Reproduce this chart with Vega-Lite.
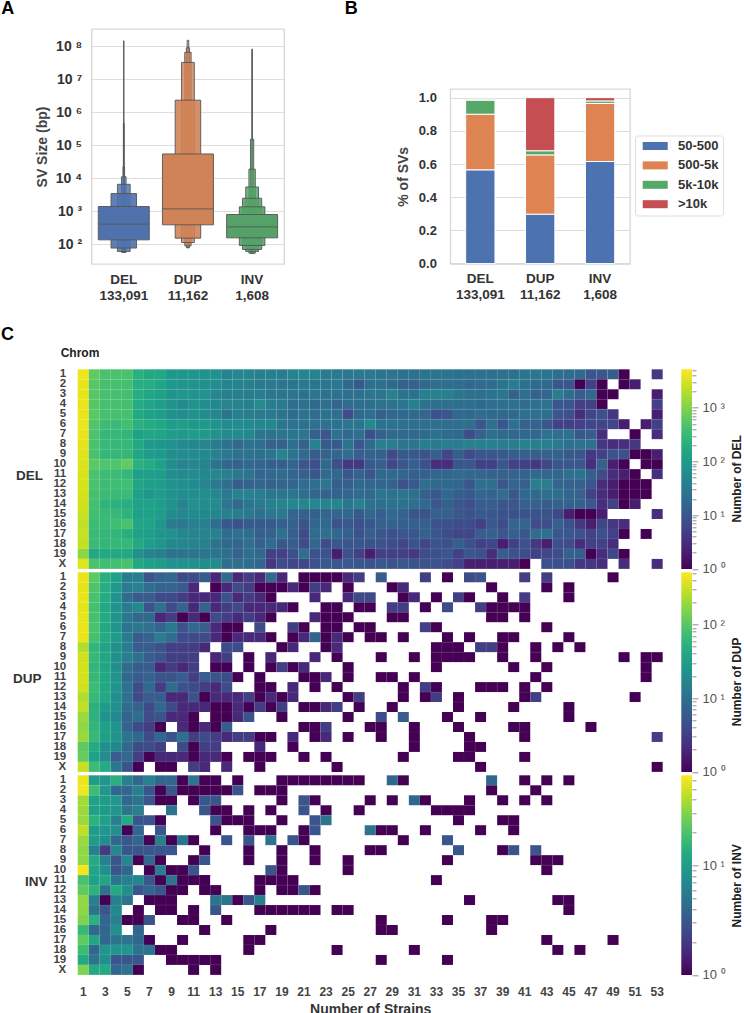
{"$schema":"https://vega.github.io/schema/vega-lite/v6.json","autosize":{"type":"none"},"padding":{"left":77.7,"top":29,"right":666.3,"bottom":984},"background":"white","bounds":"flush","spacing":340.3,
"config":{"font":"Liberation Sans","view":{"stroke":null},"axis":{"labelFont":"Liberation Sans","titleFont":"Liberation Sans"}},
"datasets":{"sv":[{"t":"DEL","lo":60,"hi":145000000,"k":0.0078},{"t":"DEL","lo":60,"hi":460000,"k":0.0156},{"t":"DEL","lo":57,"hi":22000,"k":0.031},{"t":"DEL","lo":56,"hi":11000,"k":0.09},{"t":"DEL","lo":60,"hi":6500,"k":0.25},{"t":"DEL","lo":76,"hi":3400,"k":0.5},{"t":"DEL","lo":135,"hi":1380,"k":1},
{"t":"DUP","lo":78,"hi":150000000,"k":0.031},{"t":"DUP","lo":78,"hi":89000000,"k":0.0625},{"t":"DUP","lo":89,"hi":65000000,"k":0.125},{"t":"DUP","lo":112,"hi":32000000,"k":0.25},{"t":"DUP","lo":152,"hi":2300000,"k":0.5},{"t":"DUP","lo":385,"hi":54000,"k":1},
{"t":"INV","lo":53,"hi":81000000,"k":0.0156},{"t":"INV","lo":53,"hi":150000,"k":0.0625},{"t":"INV","lo":53,"hi":18700,"k":0.125},{"t":"INV","lo":60,"hi":5400,"k":0.25},{"t":"INV","lo":69,"hi":2450,"k":0.375},{"t":"INV","lo":91,"hi":1350,"k":0.5},{"t":"INV","lo":155,"hi":790,"k":1}],
"med":[{"t":"DEL","m":403},{"t":"DUP","m":1170},{"t":"INV","m":334}],
"pct":[{"t":"DEL","b":"50-500","k":1,"p":0.565},{"t":"DEL","b":"500-5k","k":2,"p":0.335},{"t":"DEL","b":"5k-10k","k":3,"p":0.085},{"t":"DEL","b":">10k","k":4,"p":0.005},{"t":"DUP","b":"50-500","k":1,"p":0.298},{"t":"DUP","b":"500-5k","k":2,"p":0.357},{"t":"DUP","b":"5k-10k","k":3,"p":0.025},{"t":"DUP","b":">10k","k":4,"p":0.32},{"t":"INV","b":"50-500","k":1,"p":0.615},{"t":"INV","b":"500-5k","k":2,"p":0.35},{"t":"INV","b":"5k-10k","k":3,"p":0.015},{"t":"INV","b":">10k","k":4,"p":0.02}],
"del":[
{"c":"1","s":1,"n":4200},{"c":"1","s":2,"n":650},{"c":"1","s":3,"n":450},{"c":"1","s":4,"n":450},{"c":"1","s":5,"n":450},{"c":"1","s":6,"n":230},{"c":"1","s":7,"n":170},{"c":"1","s":8,"n":170},{"c":"1","s":9,"n":95},{"c":"1","s":10,"n":95},{"c":"1","s":11,"n":85},{"c":"1","s":12,"n":76},{"c":"1","s":13,"n":72},{"c":"1","s":14,"n":43},{"c":"1","s":15,"n":50},{"c":"1","s":16,"n":47},{"c":"1","s":17,"n":40},{"c":"1","s":18,"n":40},{"c":"1","s":19,"n":36},{"c":"1","s":20,"n":43},{"c":"1","s":21,"n":47},{"c":"1","s":22,"n":43},{"c":"1","s":23,"n":36},{"c":"1","s":24,"n":32},{"c":"1","s":25,"n":32},{"c":"1","s":26,"n":32},{"c":"1","s":27,"n":32},{"c":"1","s":28,"n":29},{"c":"1","s":29,"n":29},{"c":"1","s":30,"n":25},{"c":"1","s":31,"n":25},{"c":"1","s":32,"n":27},{"c":"1","s":33,"n":29},{"c":"1","s":34,"n":27},{"c":"1","s":35,"n":25},{"c":"1","s":36,"n":25},{"c":"1","s":37,"n":25},{"c":"1","s":38,"n":24},{"c":"1","s":39,"n":24},{"c":"1","s":40,"n":25},{"c":"1","s":41,"n":29},{"c":"1","s":42,"n":30},{"c":"1","s":43,"n":27},{"c":"1","s":44,"n":22},{"c":"1","s":45,"n":20},{"c":"1","s":46,"n":19},{"c":"1","s":47,"n":10},{"c":"1","s":48,"n":10},{"c":"1","s":49,"n":12},{"c":"1","s":50,"n":1},{"c":"1","s":53,"n":4},
{"c":"2","s":1,"n":3800},{"c":"2","s":2,"n":550},{"c":"2","s":3,"n":420},{"c":"2","s":4,"n":420},{"c":"2","s":5,"n":420},{"c":"2","s":6,"n":210},{"c":"2","s":7,"n":200},{"c":"2","s":8,"n":150},{"c":"2","s":9,"n":100},{"c":"2","s":10,"n":85},{"c":"2","s":11,"n":76},{"c":"2","s":12,"n":68},{"c":"2","s":13,"n":64},{"c":"2","s":14,"n":47},{"c":"2","s":15,"n":43},{"c":"2","s":16,"n":40},{"c":"2","s":17,"n":32},{"c":"2","s":18,"n":32},{"c":"2","s":19,"n":29},{"c":"2","s":20,"n":27},{"c":"2","s":21,"n":32},{"c":"2","s":22,"n":27},{"c":"2","s":23,"n":29},{"c":"2","s":24,"n":30},{"c":"2","s":25,"n":18},{"c":"2","s":26,"n":11},{"c":"2","s":27,"n":22},{"c":"2","s":28,"n":25},{"c":"2","s":29,"n":18},{"c":"2","s":30,"n":14},{"c":"2","s":31,"n":14},{"c":"2","s":32,"n":18},{"c":"2","s":33,"n":22},{"c":"2","s":34,"n":20},{"c":"2","s":35,"n":20},{"c":"2","s":36,"n":18},{"c":"2","s":37,"n":20},{"c":"2","s":38,"n":20},{"c":"2","s":39,"n":27},{"c":"2","s":40,"n":36},{"c":"2","s":41,"n":25},{"c":"2","s":42,"n":18},{"c":"2","s":43,"n":18},{"c":"2","s":44,"n":10},{"c":"2","s":45,"n":10},{"c":"2","s":46,"n":1},{"c":"2","s":47,"n":5},{"c":"2","s":48,"n":1},{"c":"2","s":50,"n":1},{"c":"2","s":51,"n":2},
{"c":"3","s":1,"n":3800},{"c":"3","s":2,"n":550},{"c":"3","s":3,"n":420},{"c":"3","s":4,"n":420},{"c":"3","s":5,"n":400},{"c":"3","s":6,"n":200},{"c":"3","s":7,"n":150},{"c":"3","s":8,"n":130},{"c":"3","s":9,"n":85},{"c":"3","s":10,"n":94},{"c":"3","s":11,"n":76},{"c":"3","s":12,"n":76},{"c":"3","s":13,"n":51},{"c":"3","s":14,"n":40},{"c":"3","s":15,"n":40},{"c":"3","s":16,"n":36},{"c":"3","s":17,"n":36},{"c":"3","s":18,"n":29},{"c":"3","s":19,"n":29},{"c":"3","s":20,"n":29},{"c":"3","s":21,"n":25},{"c":"3","s":22,"n":29},{"c":"3","s":23,"n":25},{"c":"3","s":24,"n":25},{"c":"3","s":25,"n":25},{"c":"3","s":26,"n":25},{"c":"3","s":27,"n":29},{"c":"3","s":28,"n":29},{"c":"3","s":29,"n":43},{"c":"3","s":30,"n":25},{"c":"3","s":31,"n":25},{"c":"3","s":32,"n":40},{"c":"3","s":33,"n":40},{"c":"3","s":34,"n":40},{"c":"3","s":35,"n":29},{"c":"3","s":36,"n":25},{"c":"3","s":37,"n":22},{"c":"3","s":38,"n":27},{"c":"3","s":39,"n":29},{"c":"3","s":40,"n":14},{"c":"3","s":41,"n":22},{"c":"3","s":42,"n":14},{"c":"3","s":43,"n":16},{"c":"3","s":44,"n":36},{"c":"3","s":45,"n":22},{"c":"3","s":46,"n":12},{"c":"3","s":47,"n":18},{"c":"3","s":48,"n":1},{"c":"3","s":49,"n":1},{"c":"3","s":53,"n":2},
{"c":"4","s":1,"n":3900},{"c":"4","s":2,"n":550},{"c":"4","s":3,"n":420},{"c":"4","s":4,"n":420},{"c":"4","s":5,"n":400},{"c":"4","s":6,"n":190},{"c":"4","s":7,"n":150},{"c":"4","s":8,"n":120},{"c":"4","s":9,"n":80},{"c":"4","s":10,"n":60},{"c":"4","s":11,"n":80},{"c":"4","s":12,"n":64},{"c":"4","s":13,"n":55},{"c":"4","s":14,"n":47},{"c":"4","s":15,"n":43},{"c":"4","s":16,"n":40},{"c":"4","s":17,"n":58},{"c":"4","s":18,"n":36},{"c":"4","s":19,"n":32},{"c":"4","s":20,"n":23},{"c":"4","s":21,"n":22},{"c":"4","s":22,"n":18},{"c":"4","s":23,"n":22},{"c":"4","s":24,"n":16},{"c":"4","s":25,"n":20},{"c":"4","s":26,"n":22},{"c":"4","s":27,"n":22},{"c":"4","s":28,"n":25},{"c":"4","s":29,"n":25},{"c":"4","s":30,"n":29},{"c":"4","s":31,"n":40},{"c":"4","s":32,"n":25},{"c":"4","s":33,"n":22},{"c":"4","s":34,"n":22},{"c":"4","s":35,"n":22},{"c":"4","s":36,"n":22},{"c":"4","s":37,"n":18},{"c":"4","s":38,"n":22},{"c":"4","s":39,"n":22},{"c":"4","s":40,"n":25},{"c":"4","s":41,"n":20},{"c":"4","s":42,"n":25},{"c":"4","s":43,"n":25},{"c":"4","s":44,"n":10},{"c":"4","s":45,"n":10},{"c":"4","s":46,"n":5},{"c":"4","s":47,"n":5},{"c":"4","s":48,"n":1},{"c":"4","s":53,"n":5},
{"c":"5","s":1,"n":3900},{"c":"5","s":2,"n":600},{"c":"5","s":3,"n":420},{"c":"5","s":4,"n":420},{"c":"5","s":5,"n":420},{"c":"5","s":6,"n":170},{"c":"5","s":7,"n":130},{"c":"5","s":8,"n":120},{"c":"5","s":9,"n":72},{"c":"5","s":10,"n":64},{"c":"5","s":11,"n":72},{"c":"5","s":12,"n":60},{"c":"5","s":13,"n":51},{"c":"5","s":14,"n":27},{"c":"5","s":15,"n":40},{"c":"5","s":16,"n":36},{"c":"5","s":17,"n":32},{"c":"5","s":18,"n":32},{"c":"5","s":19,"n":27},{"c":"5","s":20,"n":20},{"c":"5","s":21,"n":25},{"c":"5","s":22,"n":20},{"c":"5","s":23,"n":25},{"c":"5","s":24,"n":22},{"c":"5","s":25,"n":7},{"c":"5","s":26,"n":18},{"c":"5","s":27,"n":22},{"c":"5","s":28,"n":13},{"c":"5","s":29,"n":16},{"c":"5","s":30,"n":18},{"c":"5","s":31,"n":18},{"c":"5","s":32,"n":16},{"c":"5","s":33,"n":8},{"c":"5","s":34,"n":10},{"c":"5","s":35,"n":18},{"c":"5","s":36,"n":18},{"c":"5","s":37,"n":20},{"c":"5","s":38,"n":18},{"c":"5","s":39,"n":18},{"c":"5","s":40,"n":18},{"c":"5","s":41,"n":22},{"c":"5","s":42,"n":22},{"c":"5","s":43,"n":22},{"c":"5","s":44,"n":10},{"c":"5","s":45,"n":8},{"c":"5","s":46,"n":3},{"c":"5","s":47,"n":6},{"c":"5","s":48,"n":8},{"c":"5","s":49,"n":4},{"c":"5","s":53,"n":2},
{"c":"6","s":1,"n":4000},{"c":"6","s":2,"n":500},{"c":"6","s":3,"n":350},{"c":"6","s":4,"n":330},{"c":"6","s":5,"n":400},{"c":"6","s":6,"n":230},{"c":"6","s":7,"n":190},{"c":"6","s":8,"n":170},{"c":"6","s":9,"n":110},{"c":"6","s":10,"n":119},{"c":"6","s":11,"n":94},{"c":"6","s":12,"n":94},{"c":"6","s":13,"n":80},{"c":"6","s":14,"n":61},{"c":"6","s":15,"n":61},{"c":"6","s":16,"n":58},{"c":"6","s":17,"n":50},{"c":"6","s":18,"n":54},{"c":"6","s":19,"n":29},{"c":"6","s":20,"n":25},{"c":"6","s":21,"n":25},{"c":"6","s":22,"n":25},{"c":"6","s":23,"n":25},{"c":"6","s":24,"n":25},{"c":"6","s":25,"n":29},{"c":"6","s":26,"n":29},{"c":"6","s":27,"n":58},{"c":"6","s":28,"n":25},{"c":"6","s":29,"n":25},{"c":"6","s":30,"n":22},{"c":"6","s":31,"n":22},{"c":"6","s":32,"n":22},{"c":"6","s":33,"n":22},{"c":"6","s":34,"n":22},{"c":"6","s":35,"n":22},{"c":"6","s":36,"n":22},{"c":"6","s":37,"n":10},{"c":"6","s":38,"n":22},{"c":"6","s":39,"n":10},{"c":"6","s":40,"n":25},{"c":"6","s":41,"n":14},{"c":"6","s":42,"n":14},{"c":"6","s":43,"n":10},{"c":"6","s":44,"n":5},{"c":"6","s":45,"n":5},{"c":"6","s":46,"n":5},{"c":"6","s":47,"n":6},{"c":"6","s":48,"n":6},{"c":"6","s":49,"n":6},{"c":"6","s":50,"n":2},{"c":"6","s":52,"n":2},{"c":"6","s":53,"n":5},
{"c":"7","s":1,"n":3900},{"c":"7","s":2,"n":480},{"c":"7","s":3,"n":300},{"c":"7","s":4,"n":300},{"c":"7","s":5,"n":280},{"c":"7","s":6,"n":130},{"c":"7","s":7,"n":160},{"c":"7","s":8,"n":140},{"c":"7","s":9,"n":110},{"c":"7","s":10,"n":100},{"c":"7","s":11,"n":110},{"c":"7","s":12,"n":100},{"c":"7","s":13,"n":72},{"c":"7","s":14,"n":58},{"c":"7","s":15,"n":58},{"c":"7","s":16,"n":54},{"c":"7","s":17,"n":29},{"c":"7","s":18,"n":25},{"c":"7","s":19,"n":29},{"c":"7","s":20,"n":29},{"c":"7","s":21,"n":29},{"c":"7","s":22,"n":13},{"c":"7","s":23,"n":10},{"c":"7","s":24,"n":25},{"c":"7","s":25,"n":18},{"c":"7","s":26,"n":22},{"c":"7","s":27,"n":8},{"c":"7","s":28,"n":14},{"c":"7","s":29,"n":18},{"c":"7","s":30,"n":18},{"c":"7","s":31,"n":18},{"c":"7","s":32,"n":18},{"c":"7","s":33,"n":25},{"c":"7","s":34,"n":18},{"c":"7","s":35,"n":18},{"c":"7","s":36,"n":7},{"c":"7","s":37,"n":14},{"c":"7","s":38,"n":22},{"c":"7","s":39,"n":18},{"c":"7","s":40,"n":16},{"c":"7","s":41,"n":16},{"c":"7","s":42,"n":16},{"c":"7","s":43,"n":25},{"c":"7","s":44,"n":22},{"c":"7","s":45,"n":22},{"c":"7","s":46,"n":10},{"c":"7","s":47,"n":12},{"c":"7","s":48,"n":3},{"c":"7","s":51,"n":1},{"c":"7","s":53,"n":3},
{"c":"8","s":1,"n":3700},{"c":"8","s":2,"n":450},{"c":"8","s":3,"n":320},{"c":"8","s":4,"n":300},{"c":"8","s":5,"n":300},{"c":"8","s":6,"n":170},{"c":"8","s":7,"n":100},{"c":"8","s":8,"n":90},{"c":"8","s":9,"n":72},{"c":"8","s":10,"n":60},{"c":"8","s":11,"n":55},{"c":"8","s":12,"n":47},{"c":"8","s":13,"n":34},{"c":"8","s":14,"n":25},{"c":"8","s":15,"n":18},{"c":"8","s":16,"n":25},{"c":"8","s":17,"n":22},{"c":"8","s":18,"n":14},{"c":"8","s":19,"n":14},{"c":"8","s":20,"n":22},{"c":"8","s":21,"n":14},{"c":"8","s":22,"n":43},{"c":"8","s":23,"n":11},{"c":"8","s":24,"n":11},{"c":"8","s":25,"n":27},{"c":"8","s":26,"n":10},{"c":"8","s":27,"n":18},{"c":"8","s":28,"n":40},{"c":"8","s":29,"n":36},{"c":"8","s":30,"n":29},{"c":"8","s":31,"n":29},{"c":"8","s":32,"n":36},{"c":"8","s":33,"n":32},{"c":"8","s":34,"n":36},{"c":"8","s":35,"n":36},{"c":"8","s":36,"n":40},{"c":"8","s":37,"n":40},{"c":"8","s":38,"n":40},{"c":"8","s":39,"n":36},{"c":"8","s":40,"n":36},{"c":"8","s":41,"n":43},{"c":"8","s":42,"n":40},{"c":"8","s":43,"n":40},{"c":"8","s":44,"n":32},{"c":"8","s":45,"n":25},{"c":"8","s":46,"n":25},{"c":"8","s":47,"n":25},{"c":"8","s":48,"n":4},{"c":"8","s":49,"n":3},{"c":"8","s":50,"n":3},{"c":"8","s":51,"n":4},
{"c":"9","s":1,"n":3500},{"c":"9","s":2,"n":430},{"c":"9","s":3,"n":300},{"c":"9","s":4,"n":300},{"c":"9","s":5,"n":300},{"c":"9","s":6,"n":150},{"c":"9","s":7,"n":110},{"c":"9","s":8,"n":100},{"c":"9","s":9,"n":64},{"c":"9","s":10,"n":60},{"c":"9","s":11,"n":60},{"c":"9","s":12,"n":55},{"c":"9","s":13,"n":43},{"c":"9","s":14,"n":32},{"c":"9","s":15,"n":25},{"c":"9","s":16,"n":25},{"c":"9","s":17,"n":22},{"c":"9","s":18,"n":29},{"c":"9","s":19,"n":47},{"c":"9","s":20,"n":27},{"c":"9","s":21,"n":18},{"c":"9","s":22,"n":12},{"c":"9","s":23,"n":14},{"c":"9","s":24,"n":16},{"c":"9","s":25,"n":20},{"c":"9","s":26,"n":13},{"c":"9","s":27,"n":14},{"c":"9","s":28,"n":13},{"c":"9","s":29,"n":7},{"c":"9","s":30,"n":11},{"c":"9","s":31,"n":11},{"c":"9","s":32,"n":9},{"c":"9","s":33,"n":13},{"c":"9","s":34,"n":6},{"c":"9","s":35,"n":13},{"c":"9","s":36,"n":7},{"c":"9","s":37,"n":10},{"c":"9","s":38,"n":10},{"c":"9","s":39,"n":11},{"c":"9","s":40,"n":12},{"c":"9","s":41,"n":13},{"c":"9","s":42,"n":13},{"c":"9","s":43,"n":14},{"c":"9","s":44,"n":14},{"c":"9","s":45,"n":11},{"c":"9","s":46,"n":10},{"c":"9","s":47,"n":4},{"c":"9","s":48,"n":5},{"c":"9","s":49,"n":9},{"c":"9","s":50,"n":8},{"c":"9","s":51,"n":1},{"c":"9","s":52,"n":1},{"c":"9","s":53,"n":2},
{"c":"10","s":1,"n":3300},{"c":"10","s":2,"n":600},{"c":"10","s":3,"n":500},{"c":"10","s":4,"n":500},{"c":"10","s":5,"n":650},{"c":"10","s":6,"n":230},{"c":"10","s":7,"n":190},{"c":"10","s":8,"n":130},{"c":"10","s":9,"n":60},{"c":"10","s":10,"n":47},{"c":"10","s":11,"n":51},{"c":"10","s":12,"n":47},{"c":"10","s":13,"n":26},{"c":"10","s":14,"n":16},{"c":"10","s":15,"n":14},{"c":"10","s":16,"n":18},{"c":"10","s":17,"n":16},{"c":"10","s":18,"n":13},{"c":"10","s":19,"n":13},{"c":"10","s":20,"n":16},{"c":"10","s":21,"n":10},{"c":"10","s":22,"n":8},{"c":"10","s":23,"n":18},{"c":"10","s":24,"n":8},{"c":"10","s":25,"n":4},{"c":"10","s":26,"n":4},{"c":"10","s":27,"n":11},{"c":"10","s":28,"n":13},{"c":"10","s":29,"n":6},{"c":"10","s":30,"n":10},{"c":"10","s":31,"n":13},{"c":"10","s":32,"n":8},{"c":"10","s":33,"n":3},{"c":"10","s":34,"n":3},{"c":"10","s":35,"n":10},{"c":"10","s":36,"n":10},{"c":"10","s":37,"n":5},{"c":"10","s":38,"n":5},{"c":"10","s":39,"n":10},{"c":"10","s":40,"n":5},{"c":"10","s":41,"n":5},{"c":"10","s":42,"n":4},{"c":"10","s":43,"n":6},{"c":"10","s":44,"n":10},{"c":"10","s":45,"n":10},{"c":"10","s":46,"n":10},{"c":"10","s":47,"n":3},{"c":"10","s":48,"n":14},{"c":"10","s":49,"n":2},{"c":"10","s":50,"n":1},{"c":"10","s":52,"n":1},{"c":"10","s":53,"n":1},
{"c":"11","s":1,"n":3200},{"c":"11","s":2,"n":450},{"c":"11","s":3,"n":350},{"c":"11","s":4,"n":350},{"c":"11","s":5,"n":300},{"c":"11","s":6,"n":120},{"c":"11","s":7,"n":120},{"c":"11","s":8,"n":110},{"c":"11","s":9,"n":64},{"c":"11","s":10,"n":60},{"c":"11","s":11,"n":60},{"c":"11","s":12,"n":55},{"c":"11","s":13,"n":51},{"c":"11","s":14,"n":40},{"c":"11","s":15,"n":32},{"c":"11","s":16,"n":27},{"c":"11","s":17,"n":16},{"c":"11","s":18,"n":18},{"c":"11","s":19,"n":20},{"c":"11","s":20,"n":16},{"c":"11","s":21,"n":13},{"c":"11","s":22,"n":10},{"c":"11","s":23,"n":18},{"c":"11","s":24,"n":18},{"c":"11","s":25,"n":10},{"c":"11","s":26,"n":14},{"c":"11","s":27,"n":10},{"c":"11","s":28,"n":18},{"c":"11","s":29,"n":18},{"c":"11","s":30,"n":16},{"c":"11","s":31,"n":13},{"c":"11","s":32,"n":13},{"c":"11","s":33,"n":16},{"c":"11","s":34,"n":16},{"c":"11","s":35,"n":20},{"c":"11","s":36,"n":18},{"c":"11","s":37,"n":16},{"c":"11","s":38,"n":14},{"c":"11","s":39,"n":14},{"c":"11","s":40,"n":14},{"c":"11","s":41,"n":14},{"c":"11","s":42,"n":18},{"c":"11","s":43,"n":16},{"c":"11","s":44,"n":16},{"c":"11","s":45,"n":22},{"c":"11","s":46,"n":25},{"c":"11","s":47,"n":13},{"c":"11","s":48,"n":7},{"c":"11","s":49,"n":3},{"c":"11","s":50,"n":2},{"c":"11","s":51,"n":1},{"c":"11","s":53,"n":3},
{"c":"12","s":1,"n":3100},{"c":"12","s":2,"n":450},{"c":"12","s":3,"n":350},{"c":"12","s":4,"n":370},{"c":"12","s":5,"n":380},{"c":"12","s":6,"n":150},{"c":"12","s":7,"n":120},{"c":"12","s":8,"n":110},{"c":"12","s":9,"n":72},{"c":"12","s":10,"n":68},{"c":"12","s":11,"n":60},{"c":"12","s":12,"n":47},{"c":"12","s":13,"n":32},{"c":"12","s":14,"n":22},{"c":"12","s":15,"n":12},{"c":"12","s":16,"n":14},{"c":"12","s":17,"n":16},{"c":"12","s":18,"n":14},{"c":"12","s":19,"n":16},{"c":"12","s":20,"n":16},{"c":"12","s":21,"n":20},{"c":"12","s":22,"n":22},{"c":"12","s":23,"n":29},{"c":"12","s":24,"n":13},{"c":"12","s":25,"n":13},{"c":"12","s":26,"n":18},{"c":"12","s":27,"n":16},{"c":"12","s":28,"n":16},{"c":"12","s":29,"n":14},{"c":"12","s":30,"n":8},{"c":"12","s":31,"n":11},{"c":"12","s":32,"n":22},{"c":"12","s":33,"n":18},{"c":"12","s":34,"n":18},{"c":"12","s":35,"n":16},{"c":"12","s":36,"n":10},{"c":"12","s":37,"n":22},{"c":"12","s":38,"n":22},{"c":"12","s":39,"n":10},{"c":"12","s":40,"n":16},{"c":"12","s":41,"n":14},{"c":"12","s":42,"n":36},{"c":"12","s":43,"n":36},{"c":"12","s":44,"n":16},{"c":"12","s":45,"n":14},{"c":"12","s":46,"n":14},{"c":"12","s":47,"n":10},{"c":"12","s":48,"n":3},{"c":"12","s":49,"n":2},{"c":"12","s":50,"n":1},{"c":"12","s":51,"n":1},{"c":"12","s":52,"n":1},
{"c":"13","s":1,"n":3000},{"c":"13","s":2,"n":420},{"c":"13","s":3,"n":340},{"c":"13","s":4,"n":320},{"c":"13","s":5,"n":340},{"c":"13","s":6,"n":120},{"c":"13","s":7,"n":90},{"c":"13","s":8,"n":110},{"c":"13","s":9,"n":72},{"c":"13","s":10,"n":68},{"c":"13","s":11,"n":64},{"c":"13","s":12,"n":64},{"c":"13","s":13,"n":51},{"c":"13","s":14,"n":32},{"c":"13","s":15,"n":43},{"c":"13","s":16,"n":43},{"c":"13","s":17,"n":36},{"c":"13","s":18,"n":29},{"c":"13","s":19,"n":29},{"c":"13","s":20,"n":29},{"c":"13","s":21,"n":22},{"c":"13","s":22,"n":16},{"c":"13","s":23,"n":14},{"c":"13","s":24,"n":14},{"c":"13","s":25,"n":16},{"c":"13","s":26,"n":20},{"c":"13","s":27,"n":18},{"c":"13","s":28,"n":29},{"c":"13","s":29,"n":25},{"c":"13","s":30,"n":29},{"c":"13","s":31,"n":23},{"c":"13","s":32,"n":13},{"c":"13","s":33,"n":10},{"c":"13","s":34,"n":18},{"c":"13","s":35,"n":12},{"c":"13","s":36,"n":11},{"c":"13","s":37,"n":16},{"c":"13","s":38,"n":14},{"c":"13","s":39,"n":20},{"c":"13","s":40,"n":10},{"c":"13","s":41,"n":18},{"c":"13","s":42,"n":18},{"c":"13","s":43,"n":22},{"c":"13","s":44,"n":22},{"c":"13","s":45,"n":16},{"c":"13","s":46,"n":14},{"c":"13","s":47,"n":5},{"c":"13","s":48,"n":3},{"c":"13","s":49,"n":2},{"c":"13","s":50,"n":1},{"c":"13","s":51,"n":1},{"c":"13","s":52,"n":1},
{"c":"14","s":1,"n":2800},{"c":"14","s":2,"n":400},{"c":"14","s":3,"n":270},{"c":"14","s":4,"n":230},{"c":"14","s":5,"n":210},{"c":"14","s":6,"n":130},{"c":"14","s":7,"n":130},{"c":"14","s":8,"n":110},{"c":"14","s":9,"n":72},{"c":"14","s":10,"n":47},{"c":"14","s":11,"n":72},{"c":"14","s":12,"n":64},{"c":"14","s":13,"n":60},{"c":"14","s":14,"n":29},{"c":"14","s":15,"n":18},{"c":"14","s":16,"n":29},{"c":"14","s":17,"n":32},{"c":"14","s":18,"n":40},{"c":"14","s":19,"n":47},{"c":"14","s":20,"n":50},{"c":"14","s":21,"n":54},{"c":"14","s":22,"n":50},{"c":"14","s":23,"n":47},{"c":"14","s":24,"n":50},{"c":"14","s":25,"n":29},{"c":"14","s":26,"n":43},{"c":"14","s":27,"n":25},{"c":"14","s":28,"n":22},{"c":"14","s":29,"n":25},{"c":"14","s":30,"n":25},{"c":"14","s":31,"n":22},{"c":"14","s":32,"n":18},{"c":"14","s":33,"n":10},{"c":"14","s":34,"n":13},{"c":"14","s":35,"n":10},{"c":"14","s":36,"n":8},{"c":"14","s":37,"n":12},{"c":"14","s":38,"n":12},{"c":"14","s":39,"n":10},{"c":"14","s":40,"n":10},{"c":"14","s":41,"n":13},{"c":"14","s":42,"n":14},{"c":"14","s":43,"n":12},{"c":"14","s":44,"n":14},{"c":"14","s":45,"n":14},{"c":"14","s":46,"n":14},{"c":"14","s":47,"n":10},{"c":"14","s":48,"n":3},{"c":"14","s":49,"n":5},{"c":"14","s":50,"n":1},{"c":"14","s":51,"n":2},
{"c":"15","s":1,"n":2600},{"c":"15","s":2,"n":380},{"c":"15","s":3,"n":320},{"c":"15","s":4,"n":310},{"c":"15","s":5,"n":260},{"c":"15","s":6,"n":130},{"c":"15","s":7,"n":130},{"c":"15","s":8,"n":110},{"c":"15","s":9,"n":60},{"c":"15","s":10,"n":51},{"c":"15","s":11,"n":60},{"c":"15","s":12,"n":55},{"c":"15","s":13,"n":51},{"c":"15","s":14,"n":40},{"c":"15","s":15,"n":36},{"c":"15","s":16,"n":32},{"c":"15","s":17,"n":22},{"c":"15","s":18,"n":29},{"c":"15","s":19,"n":32},{"c":"15","s":20,"n":16},{"c":"15","s":21,"n":14},{"c":"15","s":22,"n":13},{"c":"15","s":23,"n":16},{"c":"15","s":24,"n":16},{"c":"15","s":25,"n":18},{"c":"15","s":26,"n":11},{"c":"15","s":27,"n":18},{"c":"15","s":28,"n":13},{"c":"15","s":29,"n":18},{"c":"15","s":30,"n":14},{"c":"15","s":31,"n":9},{"c":"15","s":32,"n":9},{"c":"15","s":33,"n":14},{"c":"15","s":34,"n":14},{"c":"15","s":35,"n":10},{"c":"15","s":36,"n":9},{"c":"15","s":37,"n":11},{"c":"15","s":38,"n":10},{"c":"15","s":39,"n":9},{"c":"15","s":40,"n":8},{"c":"15","s":41,"n":9},{"c":"15","s":42,"n":9},{"c":"15","s":43,"n":9},{"c":"15","s":44,"n":6},{"c":"15","s":45,"n":2},{"c":"15","s":46,"n":1},{"c":"15","s":47,"n":1},{"c":"15","s":48,"n":2},{"c":"15","s":53,"n":3},
{"c":"16","s":1,"n":2300},{"c":"16","s":2,"n":350},{"c":"16","s":3,"n":320},{"c":"16","s":4,"n":370},{"c":"16","s":5,"n":450},{"c":"16","s":6,"n":150},{"c":"16","s":7,"n":140},{"c":"16","s":8,"n":85},{"c":"16","s":9,"n":34},{"c":"16","s":10,"n":30},{"c":"16","s":11,"n":38},{"c":"16","s":12,"n":38},{"c":"16","s":13,"n":21},{"c":"16","s":14,"n":10},{"c":"16","s":15,"n":9},{"c":"16","s":16,"n":11},{"c":"16","s":17,"n":11},{"c":"16","s":18,"n":11},{"c":"16","s":19,"n":13},{"c":"16","s":20,"n":14},{"c":"16","s":21,"n":9},{"c":"16","s":22,"n":16},{"c":"16","s":23,"n":18},{"c":"16","s":24,"n":9},{"c":"16","s":25,"n":10},{"c":"16","s":26,"n":8},{"c":"16","s":27,"n":10},{"c":"16","s":28,"n":14},{"c":"16","s":29,"n":14},{"c":"16","s":30,"n":13},{"c":"16","s":31,"n":13},{"c":"16","s":32,"n":13},{"c":"16","s":33,"n":8},{"c":"16","s":34,"n":8},{"c":"16","s":35,"n":7},{"c":"16","s":36,"n":7},{"c":"16","s":37,"n":5},{"c":"16","s":38,"n":10},{"c":"16","s":39,"n":7},{"c":"16","s":40,"n":16},{"c":"16","s":41,"n":16},{"c":"16","s":42,"n":7},{"c":"16","s":43,"n":7},{"c":"16","s":44,"n":13},{"c":"16","s":45,"n":8},{"c":"16","s":46,"n":4},{"c":"16","s":47,"n":2},{"c":"16","s":48,"n":6},{"c":"16","s":49,"n":4},{"c":"16","s":50,"n":3},
{"c":"17","s":1,"n":2500},{"c":"17","s":2,"n":330},{"c":"17","s":3,"n":300},{"c":"17","s":4,"n":280},{"c":"17","s":5,"n":220},{"c":"17","s":6,"n":130},{"c":"17","s":7,"n":120},{"c":"17","s":8,"n":85},{"c":"17","s":9,"n":72},{"c":"17","s":10,"n":55},{"c":"17","s":11,"n":47},{"c":"17","s":12,"n":43},{"c":"17","s":13,"n":43},{"c":"17","s":14,"n":20},{"c":"17","s":15,"n":25},{"c":"17","s":16,"n":22},{"c":"17","s":17,"n":14},{"c":"17","s":18,"n":14},{"c":"17","s":19,"n":25},{"c":"17","s":20,"n":13},{"c":"17","s":21,"n":7},{"c":"17","s":22,"n":20},{"c":"17","s":23,"n":22},{"c":"17","s":24,"n":18},{"c":"17","s":25,"n":13},{"c":"17","s":26,"n":9},{"c":"17","s":27,"n":13},{"c":"17","s":28,"n":10},{"c":"17","s":29,"n":8},{"c":"17","s":30,"n":10},{"c":"17","s":31,"n":10},{"c":"17","s":32,"n":14},{"c":"17","s":33,"n":10},{"c":"17","s":34,"n":7},{"c":"17","s":35,"n":6},{"c":"17","s":36,"n":6},{"c":"17","s":37,"n":12},{"c":"17","s":38,"n":14},{"c":"17","s":39,"n":10},{"c":"17","s":40,"n":13},{"c":"17","s":41,"n":10},{"c":"17","s":42,"n":20},{"c":"17","s":43,"n":25},{"c":"17","s":44,"n":10},{"c":"17","s":45,"n":10},{"c":"17","s":46,"n":9},{"c":"17","s":47,"n":5},{"c":"17","s":48,"n":8},{"c":"17","s":49,"n":5},{"c":"17","s":50,"n":1},{"c":"17","s":52,"n":1},
{"c":"18","s":1,"n":2400},{"c":"18","s":2,"n":340},{"c":"18","s":3,"n":280},{"c":"18","s":4,"n":300},{"c":"18","s":5,"n":300},{"c":"18","s":6,"n":170},{"c":"18","s":7,"n":110},{"c":"18","s":8,"n":85},{"c":"18","s":9,"n":55},{"c":"18","s":10,"n":51},{"c":"18","s":11,"n":43},{"c":"18","s":12,"n":38},{"c":"18","s":13,"n":26},{"c":"18","s":14,"n":18},{"c":"18","s":15,"n":16},{"c":"18","s":16,"n":22},{"c":"18","s":17,"n":14},{"c":"18","s":18,"n":20},{"c":"18","s":19,"n":10},{"c":"18","s":20,"n":12},{"c":"18","s":21,"n":7},{"c":"18","s":22,"n":16},{"c":"18","s":23,"n":7},{"c":"18","s":24,"n":10},{"c":"18","s":25,"n":10},{"c":"18","s":26,"n":10},{"c":"18","s":27,"n":8},{"c":"18","s":28,"n":9},{"c":"18","s":29,"n":7},{"c":"18","s":30,"n":6},{"c":"18","s":31,"n":9},{"c":"18","s":32,"n":6},{"c":"18","s":33,"n":9},{"c":"18","s":34,"n":8},{"c":"18","s":35,"n":13},{"c":"18","s":36,"n":8},{"c":"18","s":37,"n":5},{"c":"18","s":38,"n":6},{"c":"18","s":39,"n":2},{"c":"18","s":40,"n":5},{"c":"18","s":41,"n":9},{"c":"18","s":42,"n":4},{"c":"18","s":43,"n":2},{"c":"18","s":44,"n":8},{"c":"18","s":45,"n":7},{"c":"18","s":46,"n":3},{"c":"18","s":47,"n":5},{"c":"18","s":48,"n":5},{"c":"18","s":49,"n":3},
{"c":"19","s":1,"n":1200},{"c":"19","s":2,"n":170},{"c":"19","s":3,"n":170},{"c":"19","s":4,"n":170},{"c":"19","s":5,"n":170},{"c":"19","s":6,"n":70},{"c":"19","s":7,"n":45},{"c":"19","s":8,"n":40},{"c":"19","s":9,"n":26},{"c":"19","s":10,"n":26},{"c":"19","s":11,"n":26},{"c":"19","s":12,"n":28},{"c":"19","s":13,"n":26},{"c":"19","s":14,"n":22},{"c":"19","s":15,"n":14},{"c":"19","s":16,"n":22},{"c":"19","s":17,"n":18},{"c":"19","s":18,"n":5},{"c":"19","s":19,"n":5},{"c":"19","s":20,"n":8},{"c":"19","s":21,"n":22},{"c":"19","s":22,"n":9},{"c":"19","s":23,"n":9},{"c":"19","s":24,"n":2},{"c":"19","s":25,"n":8},{"c":"19","s":26,"n":5},{"c":"19","s":27,"n":2},{"c":"19","s":28,"n":5},{"c":"19","s":29,"n":5},{"c":"19","s":30,"n":5},{"c":"19","s":31,"n":4},{"c":"19","s":32,"n":7},{"c":"19","s":33,"n":8},{"c":"19","s":34,"n":10},{"c":"19","s":35,"n":5},{"c":"19","s":36,"n":10},{"c":"19","s":37,"n":8},{"c":"19","s":38,"n":3},{"c":"19","s":39,"n":12},{"c":"19","s":40,"n":8},{"c":"19","s":41,"n":7},{"c":"19","s":42,"n":5},{"c":"19","s":43,"n":6},{"c":"19","s":44,"n":7},{"c":"19","s":45,"n":14},{"c":"19","s":46,"n":13},{"c":"19","s":47,"n":1},{"c":"19","s":48,"n":3},{"c":"19","s":49,"n":6},{"c":"19","s":50,"n":1},
{"c":"X","s":1,"n":3500},{"c":"X","s":2,"n":450},{"c":"X","s":3,"n":380},{"c":"X","s":4,"n":380},{"c":"X","s":5,"n":450},{"c":"X","s":6,"n":170},{"c":"X","s":7,"n":130},{"c":"X","s":8,"n":110},{"c":"X","s":9,"n":76},{"c":"X","s":10,"n":72},{"c":"X","s":11,"n":68},{"c":"X","s":12,"n":64},{"c":"X","s":13,"n":60},{"c":"X","s":14,"n":22},{"c":"X","s":15,"n":22},{"c":"X","s":16,"n":20},{"c":"X","s":17,"n":16},{"c":"X","s":18,"n":4},{"c":"X","s":19,"n":7},{"c":"X","s":20,"n":6},{"c":"X","s":21,"n":6},{"c":"X","s":22,"n":8},{"c":"X","s":23,"n":10},{"c":"X","s":24,"n":10},{"c":"X","s":25,"n":10},{"c":"X","s":26,"n":10},{"c":"X","s":27,"n":9},{"c":"X","s":28,"n":10},{"c":"X","s":29,"n":9},{"c":"X","s":30,"n":10},{"c":"X","s":31,"n":9},{"c":"X","s":32,"n":9},{"c":"X","s":33,"n":8},{"c":"X","s":34,"n":7},{"c":"X","s":35,"n":5},{"c":"X","s":36,"n":2},{"c":"X","s":37,"n":2},{"c":"X","s":38,"n":2},{"c":"X","s":39,"n":2},{"c":"X","s":40,"n":2},{"c":"X","s":41,"n":1},{"c":"X","s":43,"n":8},{"c":"X","s":44,"n":8},{"c":"X","s":45,"n":8},{"c":"X","s":46,"n":4},{"c":"X","s":47,"n":4},{"c":"X","s":48,"n":3},{"c":"X","s":50,"n":3},{"c":"X","s":53,"n":3}],
"dup":[
{"c":"1","s":1,"n":420},{"c":"1","s":2,"n":110},{"c":"1","s":3,"n":50},{"c":"1","s":4,"n":35},{"c":"1","s":5,"n":13},{"c":"1","s":6,"n":14},{"c":"1","s":7,"n":5},{"c":"1","s":8,"n":7},{"c":"1","s":9,"n":8},{"c":"1","s":10,"n":4},{"c":"1","s":11,"n":4},{"c":"1","s":12,"n":6},{"c":"1","s":13,"n":2},{"c":"1","s":14,"n":8},{"c":"1","s":15,"n":2},{"c":"1","s":16,"n":3},{"c":"1","s":17,"n":2},{"c":"1","s":18,"n":8},{"c":"1","s":19,"n":2},{"c":"1","s":21,"n":1},{"c":"1","s":22,"n":1},{"c":"1","s":23,"n":1},{"c":"1","s":24,"n":1},{"c":"1","s":25,"n":2},{"c":"1","s":26,"n":3},{"c":"1","s":28,"n":6},{"c":"1","s":32,"n":3},{"c":"1","s":34,"n":1},{"c":"1","s":36,"n":4},{"c":"1","s":37,"n":5},{"c":"1","s":41,"n":3},{"c":"1","s":43,"n":3},{"c":"1","s":49,"n":1},
{"c":"2","s":1,"n":400},{"c":"2","s":2,"n":90},{"c":"2","s":3,"n":48},{"c":"2","s":4,"n":28},{"c":"2","s":5,"n":13},{"c":"2","s":6,"n":15},{"c":"2","s":7,"n":9},{"c":"2","s":8,"n":7},{"c":"2","s":9,"n":7},{"c":"2","s":10,"n":6},{"c":"2","s":11,"n":2},{"c":"2","s":13,"n":1},{"c":"2","s":14,"n":2},{"c":"2","s":15,"n":4},{"c":"2","s":16,"n":3},{"c":"2","s":17,"n":1},{"c":"2","s":18,"n":1},{"c":"2","s":19,"n":1},{"c":"2","s":20,"n":2},{"c":"2","s":21,"n":1},{"c":"2","s":22,"n":3},{"c":"2","s":23,"n":2},{"c":"2","s":25,"n":1},{"c":"2","s":29,"n":1},{"c":"2","s":30,"n":2},{"c":"2","s":38,"n":1},{"c":"2","s":43,"n":1},{"c":"2","s":45,"n":1},
{"c":"3","s":1,"n":420},{"c":"3","s":2,"n":85},{"c":"3","s":3,"n":45},{"c":"3","s":4,"n":25},{"c":"3","s":5,"n":9},{"c":"3","s":6,"n":6},{"c":"3","s":7,"n":6},{"c":"3","s":8,"n":4},{"c":"3","s":9,"n":4},{"c":"3","s":10,"n":3},{"c":"3","s":11,"n":2},{"c":"3","s":12,"n":2},{"c":"3","s":13,"n":2},{"c":"3","s":14,"n":5},{"c":"3","s":15,"n":2},{"c":"3","s":16,"n":3},{"c":"3","s":17,"n":2},{"c":"3","s":18,"n":1},{"c":"3","s":22,"n":2},{"c":"3","s":25,"n":2},{"c":"3","s":26,"n":4},{"c":"3","s":27,"n":4},{"c":"3","s":30,"n":1},{"c":"3","s":31,"n":2},{"c":"3","s":33,"n":1},{"c":"3","s":35,"n":3},{"c":"3","s":36,"n":1},{"c":"3","s":39,"n":1},{"c":"3","s":41,"n":3},{"c":"3","s":45,"n":1},
{"c":"4","s":1,"n":400},{"c":"4","s":2,"n":80},{"c":"4","s":3,"n":42},{"c":"4","s":4,"n":24},{"c":"4","s":5,"n":13},{"c":"4","s":6,"n":18},{"c":"4","s":7,"n":5},{"c":"4","s":8,"n":10},{"c":"4","s":9,"n":4},{"c":"4","s":10,"n":7},{"c":"4","s":11,"n":2},{"c":"4","s":12,"n":7},{"c":"4","s":13,"n":2},{"c":"4","s":14,"n":3},{"c":"4","s":15,"n":4},{"c":"4","s":16,"n":2},{"c":"4","s":17,"n":2},{"c":"4","s":18,"n":2},{"c":"4","s":19,"n":2},{"c":"4","s":20,"n":1},{"c":"4","s":23,"n":1},{"c":"4","s":24,"n":1},{"c":"4","s":26,"n":1},{"c":"4","s":27,"n":1},{"c":"4","s":29,"n":3},{"c":"4","s":30,"n":3},{"c":"4","s":32,"n":1},{"c":"4","s":34,"n":4},{"c":"4","s":37,"n":3},{"c":"4","s":38,"n":1},{"c":"4","s":39,"n":1},{"c":"4","s":40,"n":1},{"c":"4","s":41,"n":1},
{"c":"5","s":1,"n":420},{"c":"5","s":2,"n":80},{"c":"5","s":3,"n":45},{"c":"5","s":4,"n":24},{"c":"5","s":5,"n":12},{"c":"5","s":6,"n":8},{"c":"5","s":7,"n":8},{"c":"5","s":8,"n":2},{"c":"5","s":9,"n":3},{"c":"5","s":10,"n":1},{"c":"5","s":11,"n":2},{"c":"5","s":12,"n":1},{"c":"5","s":13,"n":4},{"c":"5","s":14,"n":3},{"c":"5","s":15,"n":2},{"c":"5","s":16,"n":3},{"c":"5","s":17,"n":2},{"c":"5","s":18,"n":1},{"c":"5","s":22,"n":2},{"c":"5","s":23,"n":1},{"c":"5","s":24,"n":1},{"c":"5","s":25,"n":1},{"c":"5","s":29,"n":1},{"c":"5","s":30,"n":1},{"c":"5","s":38,"n":1},{"c":"5","s":39,"n":1},{"c":"5","s":41,"n":1},
{"c":"6","s":1,"n":420},{"c":"6","s":2,"n":85},{"c":"6","s":3,"n":42},{"c":"6","s":4,"n":25},{"c":"6","s":5,"n":11},{"c":"6","s":6,"n":12},{"c":"6","s":7,"n":10},{"c":"6","s":8,"n":7},{"c":"6","s":9,"n":12},{"c":"6","s":10,"n":5},{"c":"6","s":11,"n":8},{"c":"6","s":12,"n":6},{"c":"6","s":13,"n":2},{"c":"6","s":14,"n":1},{"c":"6","s":15,"n":1},{"c":"6","s":17,"n":4},{"c":"6","s":20,"n":3},{"c":"6","s":21,"n":1},{"c":"6","s":23,"n":1},{"c":"6","s":24,"n":1},{"c":"6","s":26,"n":1},{"c":"6","s":27,"n":1},{"c":"6","s":32,"n":3},{"c":"6","s":33,"n":1},{"c":"6","s":43,"n":1},
{"c":"7","s":1,"n":420},{"c":"7","s":2,"n":80},{"c":"7","s":3,"n":45},{"c":"7","s":4,"n":30},{"c":"7","s":5,"n":13},{"c":"7","s":6,"n":6},{"c":"7","s":7,"n":7},{"c":"7","s":8,"n":14},{"c":"7","s":9,"n":9},{"c":"7","s":10,"n":4},{"c":"7","s":11,"n":4},{"c":"7","s":12,"n":4},{"c":"7","s":13,"n":2},{"c":"7","s":14,"n":1},{"c":"7","s":15,"n":2},{"c":"7","s":16,"n":2},{"c":"7","s":17,"n":2},{"c":"7","s":18,"n":1},{"c":"7","s":20,"n":1},{"c":"7","s":21,"n":2},{"c":"7","s":22,"n":7},{"c":"7","s":23,"n":1},{"c":"7","s":24,"n":2},{"c":"7","s":25,"n":1},{"c":"7","s":27,"n":1},{"c":"7","s":28,"n":1},{"c":"7","s":30,"n":1},{"c":"7","s":34,"n":1},{"c":"7","s":36,"n":1},{"c":"7","s":39,"n":1},{"c":"7","s":40,"n":1},{"c":"7","s":45,"n":1},
{"c":"8","s":1,"n":250},{"c":"8","s":2,"n":60},{"c":"8","s":3,"n":38},{"c":"8","s":4,"n":22},{"c":"8","s":5,"n":13},{"c":"8","s":6,"n":6},{"c":"8","s":7,"n":6},{"c":"8","s":8,"n":5},{"c":"8","s":9,"n":3},{"c":"8","s":10,"n":3},{"c":"8","s":11,"n":3},{"c":"8","s":12,"n":2},{"c":"8","s":14,"n":4},{"c":"8","s":15,"n":4},{"c":"8","s":19,"n":1},{"c":"8","s":20,"n":2},{"c":"8","s":23,"n":1},{"c":"8","s":24,"n":2},{"c":"8","s":33,"n":1},{"c":"8","s":34,"n":1},{"c":"8","s":35,"n":1},{"c":"8","s":37,"n":3},{"c":"8","s":38,"n":3},{"c":"8","s":39,"n":1},{"c":"8","s":42,"n":1},{"c":"8","s":44,"n":1},{"c":"8","s":46,"n":1},
{"c":"9","s":1,"n":320},{"c":"9","s":2,"n":65},{"c":"9","s":3,"n":40},{"c":"9","s":4,"n":22},{"c":"9","s":5,"n":14},{"c":"9","s":6,"n":10},{"c":"9","s":7,"n":6},{"c":"9","s":8,"n":5},{"c":"9","s":9,"n":3},{"c":"9","s":10,"n":3},{"c":"9","s":11,"n":3},{"c":"9","s":13,"n":2},{"c":"9","s":14,"n":3},{"c":"9","s":16,"n":1},{"c":"9","s":18,"n":2},{"c":"9","s":22,"n":2},{"c":"9","s":24,"n":1},{"c":"9","s":28,"n":1},{"c":"9","s":31,"n":1},{"c":"9","s":33,"n":1},{"c":"9","s":34,"n":1},{"c":"9","s":35,"n":1},{"c":"9","s":36,"n":1},{"c":"9","s":39,"n":1},{"c":"9","s":42,"n":1},{"c":"9","s":50,"n":1},{"c":"9","s":52,"n":1},{"c":"9","s":53,"n":1},
{"c":"10","s":1,"n":340},{"c":"10","s":2,"n":60},{"c":"10","s":3,"n":40},{"c":"10","s":4,"n":22},{"c":"10","s":5,"n":9},{"c":"10","s":6,"n":6},{"c":"10","s":7,"n":6},{"c":"10","s":8,"n":2},{"c":"10","s":9,"n":3},{"c":"10","s":10,"n":2},{"c":"10","s":11,"n":3},{"c":"10","s":13,"n":1},{"c":"10","s":14,"n":1},{"c":"10","s":16,"n":1},{"c":"10","s":18,"n":1},{"c":"10","s":19,"n":3},{"c":"10","s":20,"n":1},{"c":"10","s":21,"n":2},{"c":"10","s":25,"n":1},{"c":"10","s":33,"n":1},{"c":"10","s":40,"n":1},{"c":"10","s":43,"n":1},{"c":"10","s":52,"n":1},
{"c":"11","s":1,"n":350},{"c":"11","s":2,"n":65},{"c":"11","s":3,"n":42},{"c":"11","s":4,"n":24},{"c":"11","s":5,"n":8},{"c":"11","s":6,"n":6},{"c":"11","s":7,"n":7},{"c":"11","s":8,"n":5},{"c":"11","s":9,"n":5},{"c":"11","s":10,"n":6},{"c":"11","s":11,"n":3},{"c":"11","s":12,"n":6},{"c":"11","s":13,"n":5},{"c":"11","s":14,"n":4},{"c":"11","s":15,"n":1},{"c":"11","s":17,"n":1},{"c":"11","s":21,"n":1},{"c":"11","s":22,"n":1},{"c":"11","s":23,"n":2},{"c":"11","s":25,"n":1},{"c":"11","s":28,"n":1},{"c":"11","s":29,"n":1},{"c":"11","s":31,"n":1},{"c":"11","s":42,"n":1},{"c":"11","s":52,"n":1},
{"c":"12","s":1,"n":330},{"c":"12","s":2,"n":70},{"c":"12","s":3,"n":42},{"c":"12","s":4,"n":24},{"c":"12","s":5,"n":10},{"c":"12","s":6,"n":4},{"c":"12","s":7,"n":8},{"c":"12","s":8,"n":3},{"c":"12","s":9,"n":9},{"c":"12","s":10,"n":5},{"c":"12","s":11,"n":4},{"c":"12","s":12,"n":3},{"c":"12","s":13,"n":2},{"c":"12","s":14,"n":4},{"c":"12","s":17,"n":1},{"c":"12","s":18,"n":1},{"c":"12","s":20,"n":2},{"c":"12","s":22,"n":1},{"c":"12","s":24,"n":1},{"c":"12","s":30,"n":1},{"c":"12","s":32,"n":3},{"c":"12","s":33,"n":1},{"c":"12","s":37,"n":1},{"c":"12","s":38,"n":1},{"c":"12","s":39,"n":1},{"c":"12","s":41,"n":1},{"c":"12","s":43,"n":1},
{"c":"13","s":1,"n":250},{"c":"13","s":2,"n":65},{"c":"13","s":3,"n":42},{"c":"13","s":4,"n":20},{"c":"13","s":5,"n":10},{"c":"13","s":6,"n":4},{"c":"13","s":7,"n":6},{"c":"13","s":8,"n":6},{"c":"13","s":9,"n":2},{"c":"13","s":10,"n":2},{"c":"13","s":11,"n":5},{"c":"13","s":12,"n":1},{"c":"13","s":13,"n":2},{"c":"13","s":14,"n":2},{"c":"13","s":15,"n":2},{"c":"13","s":16,"n":3},{"c":"13","s":17,"n":1},{"c":"13","s":18,"n":2},{"c":"13","s":19,"n":1},{"c":"13","s":20,"n":2},{"c":"13","s":25,"n":1},{"c":"13","s":26,"n":3},{"c":"13","s":30,"n":1},{"c":"13","s":32,"n":1},{"c":"13","s":33,"n":3},{"c":"13","s":35,"n":1},{"c":"13","s":41,"n":1},{"c":"13","s":42,"n":3},{"c":"13","s":51,"n":1},
{"c":"14","s":1,"n":280},{"c":"14","s":2,"n":50},{"c":"14","s":3,"n":30},{"c":"14","s":4,"n":22},{"c":"14","s":5,"n":9},{"c":"14","s":6,"n":7},{"c":"14","s":7,"n":4},{"c":"14","s":8,"n":8},{"c":"14","s":9,"n":4},{"c":"14","s":10,"n":2},{"c":"14","s":11,"n":2},{"c":"14","s":12,"n":2},{"c":"14","s":13,"n":1},{"c":"14","s":14,"n":1},{"c":"14","s":15,"n":2},{"c":"14","s":16,"n":1},{"c":"14","s":17,"n":3},{"c":"14","s":18,"n":1},{"c":"14","s":19,"n":3},{"c":"14","s":21,"n":1},{"c":"14","s":22,"n":1},{"c":"14","s":23,"n":2},{"c":"14","s":24,"n":3},{"c":"14","s":26,"n":1},{"c":"14","s":29,"n":1},{"c":"14","s":35,"n":1},{"c":"14","s":40,"n":1},{"c":"14","s":45,"n":1},
{"c":"15","s":1,"n":200},{"c":"15","s":2,"n":55},{"c":"15","s":3,"n":25},{"c":"15","s":4,"n":18},{"c":"15","s":5,"n":7},{"c":"15","s":6,"n":9},{"c":"15","s":7,"n":4},{"c":"15","s":8,"n":5},{"c":"15","s":9,"n":2},{"c":"15","s":10,"n":2},{"c":"15","s":11,"n":1},{"c":"15","s":13,"n":1},{"c":"15","s":14,"n":1},{"c":"15","s":15,"n":2},{"c":"15","s":16,"n":5},{"c":"15","s":19,"n":1},{"c":"15","s":25,"n":1},{"c":"15","s":28,"n":4},{"c":"15","s":30,"n":6},{"c":"15","s":34,"n":1},{"c":"15","s":37,"n":1},{"c":"15","s":45,"n":1},
{"c":"16","s":1,"n":180},{"c":"16","s":2,"n":60},{"c":"16","s":3,"n":35},{"c":"16","s":4,"n":25},{"c":"16","s":5,"n":7},{"c":"16","s":6,"n":4},{"c":"16","s":7,"n":3},{"c":"16","s":8,"n":1},{"c":"16","s":10,"n":2},{"c":"16","s":11,"n":1},{"c":"16","s":12,"n":2},{"c":"16","s":13,"n":1},{"c":"16","s":14,"n":6},{"c":"16","s":21,"n":1},{"c":"16","s":22,"n":1},{"c":"16","s":23,"n":3},{"c":"16","s":27,"n":1},{"c":"16","s":28,"n":1},{"c":"16","s":31,"n":1},{"c":"16","s":35,"n":1},{"c":"16","s":40,"n":1},{"c":"16","s":41,"n":1},{"c":"16","s":47,"n":1},
{"c":"17","s":1,"n":200},{"c":"17","s":2,"n":65},{"c":"17","s":3,"n":35},{"c":"17","s":4,"n":25},{"c":"17","s":5,"n":11},{"c":"17","s":6,"n":8},{"c":"17","s":7,"n":4},{"c":"17","s":8,"n":8},{"c":"17","s":9,"n":5},{"c":"17","s":10,"n":10},{"c":"17","s":11,"n":3},{"c":"17","s":12,"n":4},{"c":"17","s":13,"n":3},{"c":"17","s":14,"n":2},{"c":"17","s":15,"n":3},{"c":"17","s":16,"n":3},{"c":"17","s":17,"n":1},{"c":"17","s":18,"n":1},{"c":"17","s":20,"n":2},{"c":"17","s":22,"n":1},{"c":"17","s":23,"n":2},{"c":"17","s":25,"n":1},{"c":"17","s":28,"n":1},{"c":"17","s":31,"n":1},{"c":"17","s":36,"n":1},{"c":"17","s":41,"n":1},{"c":"17","s":53,"n":3},
{"c":"18","s":1,"n":110},{"c":"18","s":2,"n":45},{"c":"18","s":3,"n":22},{"c":"18","s":4,"n":18},{"c":"18","s":5,"n":8},{"c":"18","s":6,"n":4},{"c":"18","s":7,"n":4},{"c":"18","s":8,"n":3},{"c":"18","s":10,"n":4},{"c":"18","s":11,"n":1},{"c":"18","s":12,"n":3},{"c":"18","s":13,"n":3},{"c":"18","s":17,"n":2},{"c":"18","s":20,"n":1},{"c":"18","s":31,"n":1},{"c":"18","s":36,"n":1},{"c":"18","s":37,"n":1},
{"c":"19","s":1,"n":120},{"c":"19","s":2,"n":35},{"c":"19","s":3,"n":20},{"c":"19","s":4,"n":6},{"c":"19","s":5,"n":8},{"c":"19","s":6,"n":3},{"c":"19","s":7,"n":1},{"c":"19","s":8,"n":2},{"c":"19","s":9,"n":2},{"c":"19","s":10,"n":2},{"c":"19","s":11,"n":1},{"c":"19","s":12,"n":2},{"c":"19","s":13,"n":2},{"c":"19","s":14,"n":1},{"c":"19","s":16,"n":1},{"c":"19","s":17,"n":1},{"c":"19","s":18,"n":1},{"c":"19","s":21,"n":1},{"c":"19","s":23,"n":1},{"c":"19","s":30,"n":1},{"c":"19","s":35,"n":1},{"c":"19","s":36,"n":1},{"c":"19","s":41,"n":1},
{"c":"X","s":1,"n":300},{"c":"X","s":2,"n":70},{"c":"X","s":3,"n":45},{"c":"X","s":4,"n":12},{"c":"X","s":5,"n":5},{"c":"X","s":6,"n":1},{"c":"X","s":8,"n":1},{"c":"X","s":9,"n":1},{"c":"X","s":11,"n":3},{"c":"X","s":12,"n":2},{"c":"X","s":14,"n":2},{"c":"X","s":17,"n":1},{"c":"X","s":24,"n":1},{"c":"X","s":37,"n":1},{"c":"X","s":53,"n":1}],
"inv":[
{"c":"1","s":1,"n":60},{"c":"1","s":2,"n":10},{"c":"1","s":3,"n":9},{"c":"1","s":4,"n":14},{"c":"1","s":5,"n":6},{"c":"1","s":6,"n":4},{"c":"1","s":7,"n":6},{"c":"1","s":8,"n":4},{"c":"1","s":9,"n":4},{"c":"1","s":10,"n":1},{"c":"1","s":11,"n":5},{"c":"1","s":12,"n":1},{"c":"1","s":13,"n":1},{"c":"1","s":15,"n":1},{"c":"1","s":19,"n":1},{"c":"1","s":20,"n":1},{"c":"1","s":21,"n":1},{"c":"1","s":22,"n":1},{"c":"1","s":23,"n":1},{"c":"1","s":24,"n":1},{"c":"1","s":25,"n":1},{"c":"1","s":26,"n":1},{"c":"1","s":29,"n":4},{"c":"1","s":30,"n":1},{"c":"1","s":38,"n":4},{"c":"1","s":41,"n":1},{"c":"1","s":43,"n":1},{"c":"1","s":45,"n":1},
{"c":"2","s":1,"n":62},{"c":"2","s":2,"n":18},{"c":"2","s":3,"n":9},{"c":"2","s":4,"n":4},{"c":"2","s":5,"n":4},{"c":"2","s":6,"n":6},{"c":"2","s":7,"n":3},{"c":"2","s":8,"n":1},{"c":"2","s":9,"n":3},{"c":"2","s":10,"n":1},{"c":"2","s":11,"n":1},{"c":"2","s":12,"n":1},{"c":"2","s":13,"n":1},{"c":"2","s":14,"n":1},{"c":"2","s":15,"n":3},{"c":"2","s":17,"n":1},{"c":"2","s":18,"n":1},{"c":"2","s":19,"n":1},{"c":"2","s":38,"n":1},{"c":"2","s":42,"n":1},
{"c":"3","s":1,"n":38},{"c":"3","s":2,"n":11},{"c":"3","s":3,"n":10},{"c":"3","s":4,"n":9},{"c":"3","s":5,"n":4},{"c":"3","s":6,"n":5},{"c":"3","s":7,"n":3},{"c":"3","s":8,"n":1},{"c":"3","s":9,"n":1},{"c":"3","s":11,"n":1},{"c":"3","s":12,"n":3},{"c":"3","s":13,"n":3},{"c":"3","s":19,"n":1},{"c":"3","s":21,"n":3},{"c":"3","s":22,"n":1},{"c":"3","s":27,"n":1},{"c":"3","s":29,"n":1},{"c":"3","s":31,"n":4},{"c":"3","s":32,"n":1},{"c":"3","s":36,"n":1},{"c":"3","s":39,"n":1},{"c":"3","s":41,"n":1},{"c":"3","s":43,"n":1},
{"c":"4","s":1,"n":36},{"c":"4","s":2,"n":11},{"c":"4","s":3,"n":10},{"c":"4","s":4,"n":9},{"c":"4","s":5,"n":5},{"c":"4","s":6,"n":6},{"c":"4","s":9,"n":5},{"c":"4","s":12,"n":3},{"c":"4","s":13,"n":1},{"c":"4","s":14,"n":1},{"c":"4","s":16,"n":1},{"c":"4","s":18,"n":1},{"c":"4","s":21,"n":3},{"c":"4","s":23,"n":1},{"c":"4","s":26,"n":1},{"c":"4","s":33,"n":1},{"c":"4","s":34,"n":1},{"c":"4","s":35,"n":1},{"c":"4","s":36,"n":1},
{"c":"5","s":1,"n":36},{"c":"5","s":2,"n":15},{"c":"5","s":3,"n":11},{"c":"5","s":4,"n":6},{"c":"5","s":5,"n":13},{"c":"5","s":6,"n":3},{"c":"5","s":7,"n":3},{"c":"5","s":8,"n":1},{"c":"5","s":13,"n":3},{"c":"5","s":14,"n":1},{"c":"5","s":15,"n":1},{"c":"5","s":16,"n":1},{"c":"5","s":19,"n":1},{"c":"5","s":22,"n":3},{"c":"5","s":23,"n":5},{"c":"5","s":35,"n":1},{"c":"5","s":39,"n":1},{"c":"5","s":40,"n":1},
{"c":"6","s":1,"n":45},{"c":"6","s":2,"n":10},{"c":"6","s":3,"n":9},{"c":"6","s":4,"n":8},{"c":"6","s":5,"n":1},{"c":"6","s":6,"n":4},{"c":"6","s":8,"n":3},{"c":"6","s":13,"n":1},{"c":"6","s":16,"n":1},{"c":"6","s":17,"n":1},{"c":"6","s":18,"n":1},{"c":"6","s":21,"n":1},{"c":"6","s":22,"n":3},{"c":"6","s":27,"n":5},{"c":"6","s":28,"n":1},{"c":"6","s":29,"n":1},{"c":"6","s":32,"n":1},{"c":"6","s":37,"n":1},{"c":"6","s":40,"n":1},
{"c":"7","s":1,"n":36},{"c":"7","s":2,"n":10},{"c":"7","s":3,"n":8},{"c":"7","s":4,"n":4},{"c":"7","s":5,"n":3},{"c":"7","s":6,"n":4},{"c":"7","s":7,"n":1},{"c":"7","s":8,"n":6},{"c":"7","s":9,"n":1},{"c":"7","s":10,"n":5},{"c":"7","s":11,"n":1},{"c":"7","s":14,"n":3},{"c":"7","s":16,"n":3},{"c":"7","s":18,"n":5},{"c":"7","s":20,"n":3},{"c":"7","s":21,"n":1},{"c":"7","s":30,"n":1},{"c":"7","s":34,"n":3},
{"c":"8","s":1,"n":33},{"c":"8","s":2,"n":6},{"c":"8","s":3,"n":2},{"c":"8","s":4,"n":7},{"c":"8","s":5,"n":3},{"c":"8","s":6,"n":3},{"c":"8","s":7,"n":3},{"c":"8","s":8,"n":3},{"c":"8","s":9,"n":3},{"c":"8","s":12,"n":1},{"c":"8","s":16,"n":1},{"c":"8","s":19,"n":1},{"c":"8","s":22,"n":1},{"c":"8","s":27,"n":1},{"c":"8","s":28,"n":1},{"c":"8","s":35,"n":3},{"c":"8","s":39,"n":1},{"c":"8","s":40,"n":3},{"c":"8","s":42,"n":3},
{"c":"9","s":1,"n":33},{"c":"9","s":2,"n":13},{"c":"9","s":3,"n":6},{"c":"9","s":4,"n":3},{"c":"9","s":5,"n":7},{"c":"9","s":6,"n":1},{"c":"9","s":7,"n":4},{"c":"9","s":8,"n":1},{"c":"9","s":11,"n":1},{"c":"9","s":12,"n":3},{"c":"9","s":16,"n":1},{"c":"9","s":19,"n":1},{"c":"9","s":22,"n":1},{"c":"9","s":25,"n":1},{"c":"9","s":34,"n":1},{"c":"9","s":42,"n":1},{"c":"9","s":43,"n":1},{"c":"9","s":44,"n":1},
{"c":"10","s":1,"n":62},{"c":"10","s":2,"n":12},{"c":"10","s":3,"n":8},{"c":"10","s":4,"n":3},{"c":"10","s":5,"n":4},{"c":"10","s":7,"n":1},{"c":"10","s":8,"n":6},{"c":"10","s":9,"n":1},{"c":"10","s":10,"n":1},{"c":"10","s":11,"n":3},{"c":"10","s":18,"n":3},{"c":"10","s":19,"n":1},{"c":"10","s":25,"n":1},{"c":"10","s":43,"n":1},
{"c":"11","s":1,"n":20},{"c":"11","s":2,"n":11},{"c":"11","s":3,"n":12},{"c":"11","s":4,"n":5},{"c":"11","s":5,"n":6},{"c":"11","s":6,"n":7},{"c":"11","s":7,"n":3},{"c":"11","s":8,"n":1},{"c":"11","s":9,"n":5},{"c":"11","s":10,"n":1},{"c":"11","s":11,"n":1},{"c":"11","s":12,"n":1},{"c":"11","s":17,"n":1},{"c":"11","s":18,"n":1},{"c":"11","s":19,"n":1},{"c":"11","s":20,"n":1},{"c":"11","s":33,"n":1},
{"c":"12","s":1,"n":24},{"c":"12","s":2,"n":15},{"c":"12","s":3,"n":5},{"c":"12","s":4,"n":13},{"c":"12","s":5,"n":8},{"c":"12","s":6,"n":3},{"c":"12","s":7,"n":4},{"c":"12","s":8,"n":3},{"c":"12","s":9,"n":1},{"c":"12","s":10,"n":1},{"c":"12","s":12,"n":1},{"c":"12","s":13,"n":1},{"c":"12","s":17,"n":1},{"c":"12","s":19,"n":1},{"c":"12","s":20,"n":1},{"c":"12","s":21,"n":3},{"c":"12","s":22,"n":1},
{"c":"13","s":1,"n":33},{"c":"13","s":2,"n":6},{"c":"13","s":3,"n":1},{"c":"13","s":4,"n":6},{"c":"13","s":5,"n":5},{"c":"13","s":7,"n":1},{"c":"13","s":8,"n":1},{"c":"13","s":9,"n":1},{"c":"13","s":13,"n":5},{"c":"13","s":14,"n":5},{"c":"13","s":15,"n":1},{"c":"13","s":16,"n":3},{"c":"13","s":17,"n":6},{"c":"13","s":36,"n":1},{"c":"13","s":44,"n":1},{"c":"13","s":45,"n":1},
{"c":"14","s":1,"n":33},{"c":"14","s":2,"n":5},{"c":"14","s":3,"n":3},{"c":"14","s":4,"n":7},{"c":"14","s":6,"n":1},{"c":"14","s":8,"n":1},{"c":"14","s":9,"n":1},{"c":"14","s":11,"n":1},{"c":"14","s":13,"n":3},{"c":"14","s":17,"n":1},{"c":"14","s":18,"n":1},{"c":"14","s":19,"n":1},{"c":"14","s":20,"n":1},{"c":"14","s":21,"n":1},{"c":"14","s":22,"n":1},{"c":"14","s":24,"n":1},{"c":"14","s":25,"n":1},{"c":"14","s":45,"n":1},
{"c":"15","s":1,"n":30},{"c":"15","s":2,"n":14},{"c":"15","s":3,"n":4},{"c":"15","s":4,"n":6},{"c":"15","s":5,"n":1},{"c":"15","s":6,"n":1},{"c":"15","s":7,"n":3},{"c":"15","s":10,"n":1},{"c":"15","s":11,"n":1},{"c":"15","s":14,"n":1},{"c":"15","s":28,"n":1},{"c":"15","s":34,"n":1},{"c":"15","s":38,"n":1},{"c":"15","s":39,"n":1},
{"c":"16","s":1,"n":17},{"c":"16","s":2,"n":4},{"c":"16","s":3,"n":4},{"c":"16","s":4,"n":8},{"c":"16","s":6,"n":4},{"c":"16","s":12,"n":1},{"c":"16","s":18,"n":1},{"c":"16","s":28,"n":1},{"c":"16","s":29,"n":1},{"c":"16","s":38,"n":1},
{"c":"17","s":1,"n":24},{"c":"17","s":2,"n":12},{"c":"17","s":3,"n":4},{"c":"17","s":4,"n":5},{"c":"17","s":5,"n":5},{"c":"17","s":6,"n":4},{"c":"17","s":7,"n":1},{"c":"17","s":10,"n":1},{"c":"17","s":16,"n":1},{"c":"17","s":17,"n":1},{"c":"17","s":43,"n":1},{"c":"17","s":49,"n":1},
{"c":"18","s":1,"n":18},{"c":"18","s":2,"n":4},{"c":"18","s":3,"n":9},{"c":"18","s":4,"n":9},{"c":"18","s":5,"n":9},{"c":"18","s":6,"n":5},{"c":"18","s":7,"n":5},{"c":"18","s":8,"n":1},{"c":"18","s":9,"n":1},{"c":"18","s":16,"n":1},{"c":"18","s":24,"n":1},{"c":"18","s":31,"n":1},{"c":"18","s":44,"n":1},{"c":"18","s":46,"n":1},
{"c":"19","s":1,"n":13},{"c":"19","s":2,"n":5},{"c":"19","s":3,"n":8},{"c":"19","s":4,"n":3},{"c":"19","s":5,"n":3},{"c":"19","s":6,"n":3},{"c":"19","s":9,"n":1},{"c":"19","s":10,"n":1},{"c":"19","s":11,"n":1},{"c":"19","s":12,"n":1},{"c":"19","s":13,"n":1},{"c":"19","s":28,"n":1},{"c":"19","s":34,"n":1},
{"c":"X","s":1,"n":30},{"c":"X","s":2,"n":13},{"c":"X","s":3,"n":13},{"c":"X","s":4,"n":4},{"c":"X","s":5,"n":5},{"c":"X","s":6,"n":1},{"c":"X","s":11,"n":1},{"c":"X","s":13,"n":1}]},
"vconcat":[
{"bounds":"flush","spacing":0,"hconcat":[
{"width":13.8,"height":10,"data":{"values":[]},"mark":"point"},
{"bounds":"flush","spacing":165.7,"hconcat":[
{"width":192.5,"height":235,"view":{"stroke":"#d9d9d9","strokeWidth":1.4},
"title":{"text":"A","anchor":"start","frame":"group","dx":-90.5,"offset":11,"fontSize":18,"fontWeight":"bold","color":"#000"},
"layer":[
{"data":{"name":"sv"},"mark":{"type":"bar","stroke":"#555","strokeWidth":0.9},"encoding":{
"x":{"field":"t","type":"nominal","scale":{"paddingInner":0,"paddingOuter":0},"axis":{"title":null,"labelAngle":0,"domain":false,"ticks":false,"labelPadding":8,"labelFontSize":13.5,"labelFontWeight":"bold","labelColor":"#333","labelLineHeight":16,"labelExpr":"{'DEL':['DEL','133,091'],'DUP':['DUP','11,162'],'INV':['INV','1,608']}[datum.value]"}},
"y":{"field":"lo","type":"quantitative","scale":{"type":"log","domain":[25,330000000],"nice":false},"axis":{"title":"SV Size (bp)","titleFontSize":14,"titleFontWeight":"bold","titleColor":"#444","titlePadding":6,"values":[100,1000,10000,100000,1000000,10000000,100000000],"labelExpr":"datum.value==100?'10 ²':datum.value==1000?'10 ³':datum.value==10000?'10 ⁴':datum.value==100000?'10 ⁵':datum.value==1000000?'10 ⁶':datum.value==10000000?'10 ⁷':'10 ⁸'","labelFontSize":14,"labelFontWeight":"bold","labelColor":"#333","labelPadding":10,"domain":false,"ticks":false,"grid":true,"gridColor":"#dedede","gridWidth":1.2}},
"y2":{"field":"hi"},
"size":{"field":"k","type":"quantitative","scale":{"domain":[0,1],"range":[0,51]},"legend":null},
"fill":{"field":"t","type":"nominal","scale":{"domain":["DEL","DUP","INV"],"range":["#4f72ad","#cf8356","#55a268"]},"legend":null},
"fillOpacity":{"field":"k","type":"quantitative","scale":{"type":"log","domain":[0.0078,1],"range":[0.35,1]},"legend":null}}},
{"data":{"name":"med"},"mark":{"type":"tick","size":51,"thickness":1.3,"color":"#555"},"encoding":{"x":{"field":"t","type":"nominal"},"y":{"field":"m","type":"quantitative"}}}]},
{"bounds":"flush","spacing":0,"vconcat":[
{"width":179.6,"height":59.7,"title":{"text":"B","anchor":"start","frame":"group","dx":-105.7,"offset":11,"fontSize":18,"fontWeight":"bold","color":"#000"},"data":{"values":[]},"mark":"point"},
{"width":179.6,"height":174.6,"view":{"stroke":"#d9d9d9","strokeWidth":1.4},"data":{"name":"pct"},"mark":{"type":"bar","size":29.3,"stroke":"white","strokeWidth":1},"encoding":{
"x":{"field":"t","type":"nominal","scale":{"paddingInner":0,"paddingOuter":0},"axis":{"title":null,"labelAngle":0,"domain":false,"ticks":false,"labelPadding":8,"labelFontSize":13.5,"labelFontWeight":"bold","labelColor":"#333","labelLineHeight":16,"labelExpr":"{'DEL':['DEL','133,091'],'DUP':['DUP','11,162'],'INV':['INV','1,608']}[datum.value]"}},
"y":{"field":"p","type":"quantitative","stack":"zero","scale":{"domain":[0,1.052],"nice":false},"axis":{"title":"% of SVs","titleFontSize":14,"titleFontWeight":"bold","titleColor":"#444","titlePadding":8,"values":[0,0.2,0.4,0.6,0.8,1],"format":".1f","labelFontSize":13,"labelFontWeight":"bold","labelColor":"#333","labelPadding":14,"domain":false,"ticks":false,"grid":true,"gridColor":"#dedede","gridWidth":1.2}},
"order":{"field":"k"},
"color":{"field":"b","type":"nominal","scale":{"domain":["50-500","500-5k","5k-10k",">10k"],"range":["#4c72b0","#dd8452","#55a868","#c44e52"]},"legend":{"title":null,"orient":"none","legendX":557.3,"legendY":106.5,"padding":4,"strokeColor":"#dddddd","fillColor":"white","cornerRadius":3,"symbolType":"M-0.51,-0.73H4.04V0.73H-0.51Z","symbolSize":121,"symbolStrokeWidth":0,"rowPadding":5.4,"labelOffset":26,"labelFontSize":13,"labelFontWeight":"bold","labelColor":"#333","labelExpr":"datum.label+'\u00a0\u00a0\u00a0\u00a0\u00a0\u00a0\u00a0'"}}}}
]}]}]},
{"bounds":"flush","spacing":203,"resolve":{"scale":{"color":"independent"}},"title":{"text":"C","anchor":"start","frame":"group","dx":-76.7,"offset":2,"fontSize":18,"fontWeight":"bold","color":"#000"},"vconcat":[
{"bounds":"flush","spacing":18.6,"hconcat":[
{"width":585,"height":199.6,"title":{"text":"DEL","orient":"left","angle":0,"align":"right","anchor":"middle","offset":-17,"fontSize":13.5,"fontWeight":"bold","color":"#333"},"data":{"name":"del"},"mark":{"type":"rect","stroke":"white","strokeWidth":0.3,"strokeOpacity":0.15},"encoding":{
"x":{"field":"s","type":"ordinal","scale":{"domain":[1,2,3,4,5,6,7,8,9,10,11,12,13,14,15,16,17,18,19,20,21,22,23,24,25,26,27,28,29,30,31,32,33,34,35,36,37,38,39,40,41,42,43,44,45,46,47,48,49,50,51,52,53],"paddingInner":0,"paddingOuter":0},"axis":null},
"y":{"field":"c","type":"ordinal","scale":{"domain":["1","2","3","4","5","6","7","8","9","10","11","12","13","14","15","16","17","18","19","X"],"paddingInner":0,"paddingOuter":0},"axis":{"title":"Chrom","titleAngle":0,"titleX":1.8,"titleY":-10,"titleAlign":"center","titleFontSize":12,"titleFontWeight":"bold","titleColor":"#222","labelAngle":0,"labelFontSize":11.5,"labelFontWeight":"bold","labelColor":"#444","ticks":false,"domain":false,"labelPadding":12}},
"color":{"field":"n","type":"quantitative","scale":{"type":"log","domain":[1,5200],"scheme":"viridis"},"legend":null}}},
{"width":10.7,"height":199.6,"data":{"values":[{"lo":1,"hi":5200}]},"mark":{"type":"rect","fill":{"gradient":"linear","x1":0,"y1":1,"x2":0,"y2":0,"stops":[{"offset":0,"color":"#440154"},{"offset":0.1,"color":"#482475"},{"offset":0.2,"color":"#414487"},{"offset":0.3,"color":"#355f8d"},{"offset":0.4,"color":"#2a788e"},{"offset":0.5,"color":"#21918c"},{"offset":0.6,"color":"#22a884"},{"offset":0.7,"color":"#44bf70"},{"offset":0.8,"color":"#7ad151"},{"offset":0.9,"color":"#bddf26"},{"offset":1,"color":"#fde725"}]}},"encoding":{
"y":{"field":"lo","type":"quantitative","scale":{"type":"log","domain":[1,5200],"nice":false},"axis":{"orient":"right","title":"Number of DEL","titleAngle":270,"titleFontSize":12,"titleFontWeight":"bold","titleColor":"#222","titleY":109,"titlePadding":18.5,"domain":false,"values":[1,2,3,4,5,6,7,8,9,10,20,30,40,50,60,70,80,90,100,200,300,400,500,600,700,800,900,1000,2000,3000,4000,5000],"labelExpr":"datum.value==1?'10 ⁰':datum.value==10?'10 ¹':datum.value==100?'10 ²':datum.value==1000?'10 ³':''","labelFontSize":13,"labelColor":"#555","labelPadding":4,"tickSize":{"expr":"indexof([1,10,100,1000],datum.value)>=0?6:4"},"tickColor":"#444","tickWidth":0.6,"labelOverlap":false,"grid":false}},
"y2":{"field":"hi"}}}
]},
{"bounds":"flush","spacing":18.6,"hconcat":[
{"width":585,"height":199.6,"title":{"text":"DUP","orient":"left","angle":0,"align":"right","anchor":"middle","offset":-17,"fontSize":13.5,"fontWeight":"bold","color":"#333"},"data":{"name":"dup"},"mark":{"type":"rect","stroke":"white","strokeWidth":0.3,"strokeOpacity":0.15},"encoding":{
"x":{"field":"s","type":"ordinal","scale":{"domain":[1,2,3,4,5,6,7,8,9,10,11,12,13,14,15,16,17,18,19,20,21,22,23,24,25,26,27,28,29,30,31,32,33,34,35,36,37,38,39,40,41,42,43,44,45,46,47,48,49,50,51,52,53],"paddingInner":0,"paddingOuter":0},"axis":null},
"y":{"field":"c","type":"ordinal","scale":{"domain":["1","2","3","4","5","6","7","8","9","10","11","12","13","14","15","16","17","18","19","X"],"paddingInner":0,"paddingOuter":0},"axis":{"title":null,"labelAngle":0,"labelFontSize":11.5,"labelFontWeight":"bold","labelColor":"#444","ticks":false,"domain":false,"labelPadding":12}},
"color":{"field":"n","type":"quantitative","scale":{"type":"log","domain":[1,510],"scheme":"viridis"},"legend":null}}},
{"width":10.7,"height":199.6,"data":{"values":[{"lo":1,"hi":510}]},"mark":{"type":"rect","fill":{"gradient":"linear","x1":0,"y1":1,"x2":0,"y2":0,"stops":[{"offset":0,"color":"#440154"},{"offset":0.1,"color":"#482475"},{"offset":0.2,"color":"#414487"},{"offset":0.3,"color":"#355f8d"},{"offset":0.4,"color":"#2a788e"},{"offset":0.5,"color":"#21918c"},{"offset":0.6,"color":"#22a884"},{"offset":0.7,"color":"#44bf70"},{"offset":0.8,"color":"#7ad151"},{"offset":0.9,"color":"#bddf26"},{"offset":1,"color":"#fde725"}]}},"encoding":{
"y":{"field":"lo","type":"quantitative","scale":{"type":"log","domain":[1,510],"nice":false},"axis":{"orient":"right","title":"Number of DUP","titleAngle":270,"titleFontSize":12,"titleFontWeight":"bold","titleColor":"#222","titleY":109,"titlePadding":18.5,"domain":false,"values":[1,2,3,4,5,6,7,8,9,10,20,30,40,50,60,70,80,90,100,200,300,400,500],"labelExpr":"datum.value==1?'10 ⁰':datum.value==10?'10 ¹':datum.value==100?'10 ²':''","labelFontSize":13,"labelColor":"#555","labelPadding":4,"tickSize":{"expr":"indexof([1,10,100],datum.value)>=0?6:4"},"tickColor":"#444","tickWidth":0.6,"labelOverlap":false,"grid":false}},
"y2":{"field":"hi"}}}
]},
{"bounds":"flush","spacing":18.6,"hconcat":[
{"width":585,"height":199.6,"title":{"text":"INV","orient":"left","angle":0,"align":"right","anchor":"middle","offset":-17,"fontSize":13.5,"fontWeight":"bold","color":"#333"},"data":{"name":"inv"},"mark":{"type":"rect","stroke":"white","strokeWidth":0.3,"strokeOpacity":0.15},"encoding":{
"x":{"field":"s","type":"ordinal","scale":{"domain":[1,2,3,4,5,6,7,8,9,10,11,12,13,14,15,16,17,18,19,20,21,22,23,24,25,26,27,28,29,30,31,32,33,34,35,36,37,38,39,40,41,42,43,44,45,46,47,48,49,50,51,52,53],"paddingInner":0,"paddingOuter":0},"axis":{"title":"Number of Strains","titleFontSize":14,"titleFontWeight":"bold","titleColor":"#333","titlePadding":4.5,"labelAngle":0,"labelFontSize":12,"labelFontWeight":"bold","labelColor":"#444","ticks":false,"domain":false,"labelPadding":12,"labelOverlap":false,"values":[1,3,5,7,9,11,13,15,17,19,21,23,25,27,29,31,33,35,37,39,41,43,45,47,49,51,53]}},
"y":{"field":"c","type":"ordinal","scale":{"domain":["1","2","3","4","5","6","7","8","9","10","11","12","13","14","15","16","17","18","19","X"],"paddingInner":0,"paddingOuter":0},"axis":{"title":null,"labelAngle":0,"labelFontSize":11.5,"labelFontWeight":"bold","labelColor":"#444","ticks":false,"domain":false,"labelPadding":12}},
"color":{"field":"n","type":"quantitative","scale":{"type":"log","domain":[1,67],"scheme":"viridis"},"legend":null}}},
{"width":10.7,"height":199.6,"data":{"values":[{"lo":1,"hi":67}]},"mark":{"type":"rect","fill":{"gradient":"linear","x1":0,"y1":1,"x2":0,"y2":0,"stops":[{"offset":0,"color":"#440154"},{"offset":0.1,"color":"#482475"},{"offset":0.2,"color":"#414487"},{"offset":0.3,"color":"#355f8d"},{"offset":0.4,"color":"#2a788e"},{"offset":0.5,"color":"#21918c"},{"offset":0.6,"color":"#22a884"},{"offset":0.7,"color":"#44bf70"},{"offset":0.8,"color":"#7ad151"},{"offset":0.9,"color":"#bddf26"},{"offset":1,"color":"#fde725"}]}},"encoding":{
"y":{"field":"lo","type":"quantitative","scale":{"type":"log","domain":[1,67],"nice":false},"axis":{"orient":"right","title":"Number of INV","titleAngle":270,"titleFontSize":12,"titleFontWeight":"bold","titleColor":"#222","titleY":110,"titlePadding":18.5,"domain":false,"values":[1,2,3,4,5,6,7,8,9,10,20,30,40,50,60],"labelExpr":"datum.value==1?'10 ⁰':datum.value==10?'10 ¹':''","labelFontSize":13,"labelColor":"#555","labelPadding":4,"tickSize":{"expr":"indexof([1,10],datum.value)>=0?6:4"},"tickColor":"#444","tickWidth":0.6,"labelOverlap":false,"grid":false}},
"y2":{"field":"hi"}}}
]}
]}
]}
